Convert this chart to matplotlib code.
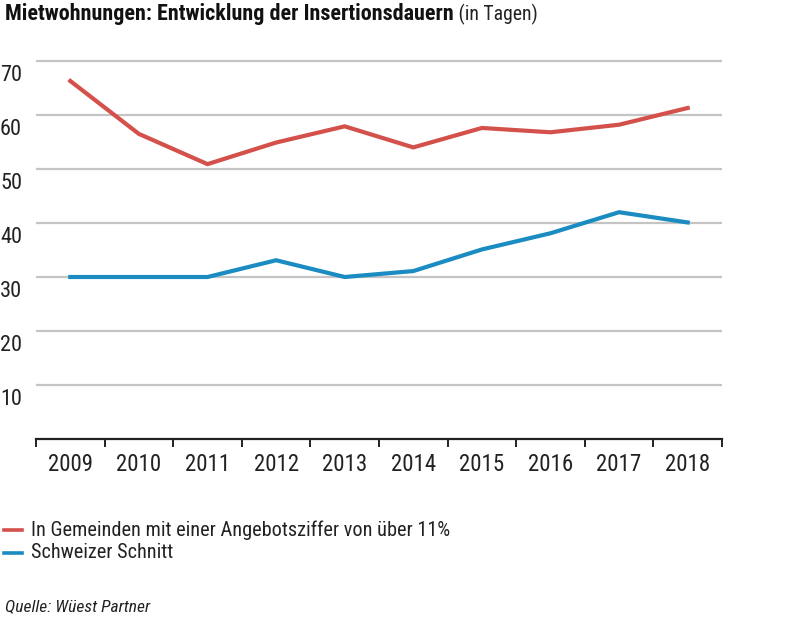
import matplotlib
matplotlib.use("Agg")
import matplotlib.pyplot as plt
from matplotlib import font_manager
from matplotlib.transforms import ScaledTranslation

years = ["2009", "2010", "2011", "2012", "2013", "2014", "2015", "2016", "2017", "2018"]
gemeinden = [66.3, 56.5, 50.9, 54.9, 57.9, 54.0, 57.6, 56.8, 58.2, 61.3]
schweiz = [30.0, 30.0, 30.0, 33.1, 30.0, 31.1, 35.1, 38.1, 42.0, 40.1]
yticks = [10, 20, 30, 40, 50, 60, 70]
series_names = ["In Gemeinden mit einer Angebotsziffer von über 11%", "Schweizer Schnitt"]
title_bold = "Mietwohnungen: Entwicklung der Insertionsdauern"
title_normal = " (in Tagen)"
source = "Quelle: Wüest Partner"

RED = "#d4504a"
BLUE = "#1a8cc1"

avail = {f.name for f in font_manager.fontManager.ttflist}
fam = "DejaVu Sans"
for c in ["Liberation Sans Narrow", "Roboto Condensed", "Open Sans Condensed", "Liberation Sans"]:
    if c in avail:
        fam = c
        break
plt.rcParams["font.family"] = [fam, "DejaVu Sans"]

W, H = 801, 635
fig = plt.figure(figsize=(W / 100, H / 100), dpi=100)

ymax = 71
x0, x1 = 36, 722
ybot = 439
ytop = ybot - ymax * 5.4
ax = fig.add_axes([x0 / W, (H - ybot) / H, (x1 - x0) / W, (ybot - ytop) / H])

xs = list(range(len(years)))
ax.plot(xs, gemeinden, color=RED, lw=3.0, solid_joinstyle="miter", zorder=3)
ax.plot(xs, schweiz, color=BLUE, lw=3.0, solid_joinstyle="miter", zorder=3)

ax.set_xlim(-0.5, len(years) - 0.5)
ax.set_ylim(0, ymax)
for v in yticks:
    ax.axhline(v, color="#c4c4c4", lw=1.6, zorder=1)

for s in ["top", "right", "left"]:
    ax.spines[s].set_visible(False)
ax.spines["bottom"].set_linewidth(1.6)
ax.spines["bottom"].set_color("#222222")

ax.set_xticks([i - 0.5 for i in range(len(years) + 1)], minor=False)
ax.set_xticklabels([])
ax.tick_params(axis="x", which="major", length=6, width=1.4, color="#222222")
ax.set_xticks(xs, minor=True)
ax.set_xticklabels(years, minor=True, fontsize=16.5, color="#222222")
ax.tick_params(axis="x", which="minor", length=0, pad=10)

ax.set_yticks(yticks)
ax.set_yticklabels([str(v) for v in yticks], fontsize=16, color="#222222")
ax.tick_params(axis="y", length=0, pad=10)
for lbl in ax.get_yticklabels():
    lbl.set_va("top")
    lbl.set_transform(lbl.get_transform() + ScaledTranslation(0, -3 / 72, fig.dpi_scale_trans))

# Title
t1 = fig.text(5 / W, 1 - 20 / H, title_bold, fontsize=15.9, fontweight="bold", color="#111111", va="baseline", ha="left")
fig.canvas.draw()
bb = t1.get_window_extent()
fig.text(bb.x1 / W, 1 - 20 / H, title_normal, fontsize=14.2, color="#222222", va="baseline", ha="left")

# Legend
for i, (name, col) in enumerate(zip(series_names, [RED, BLUE])):
    yy = 1 - (530 + 23 * i) / H
    fig.add_artist(plt.Line2D([4 / W, 22 / W], [yy, yy], color=col, lw=2.6, transform=fig.transFigure))
    fig.text(31 / W, yy, name, fontsize=14.6, color="#222222", va="center", ha="left")

fig.text(5 / W, 1 - 607 / H, source, fontsize=12.6, style="italic", color="#222222", va="center", ha="left")

fig.savefig("out.png", dpi=100)
